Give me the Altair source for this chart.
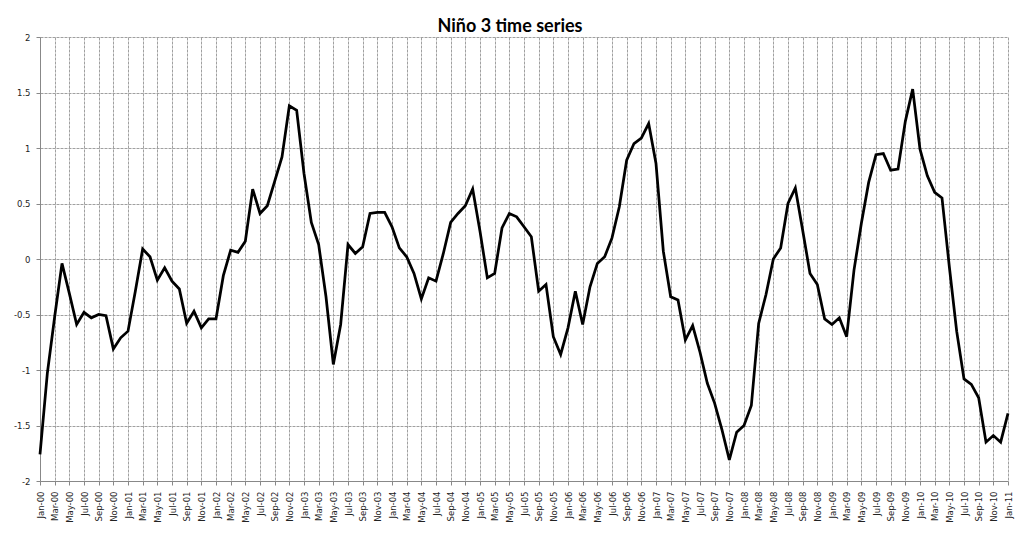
import altair as alt
import pandas as pd

# Monthly categories Jan-00 .. Jan-11
months = pd.date_range("2000-01-01", "2011-01-01", freq="MS").strftime("%b-%y").tolist()

# Niño 3 anomaly values
nino3 = [
    -1.76, -1.03, -0.52, -0.04, -0.31, -0.59, -0.48, -0.53, -0.50, -0.51, -0.81, -0.71,
    -0.65, -0.29, 0.09, 0.02, -0.19, -0.08, -0.20, -0.27, -0.58, -0.47, -0.62, -0.54,
    -0.54, -0.15, 0.08, 0.06, 0.16, 0.63, 0.41, 0.48, 0.70, 0.92, 1.38, 1.34,
    0.77, 0.33, 0.13, -0.34, -0.95, -0.59, 0.13, 0.05, 0.11, 0.41, 0.42, 0.42,
    0.29, 0.10, 0.02, -0.13, -0.36, -0.17, -0.20, 0.05, 0.33, 0.41, 0.48, 0.63,
    0.25, -0.17, -0.13, 0.28, 0.41, 0.38, 0.29, 0.20, -0.29, -0.23, -0.70, -0.86,
    -0.62, -0.29, -0.59, -0.25, -0.04, 0.02, 0.19, 0.47, 0.89, 1.04, 1.09, 1.22,
    0.86, 0.07, -0.34, -0.37, -0.73, -0.60, -0.84, -1.12, -1.30, -1.54, -1.81, -1.56,
    -1.50, -1.32, -0.58, -0.32, 0.00, 0.10, 0.50, 0.64, 0.26, -0.13, -0.23, -0.54,
    -0.59, -0.53, -0.70, -0.10, 0.32, 0.69, 0.94, 0.95, 0.80, 0.81, 1.24, 1.53,
    0.99, 0.75, 0.60, 0.55, -0.07, -0.65, -1.08, -1.13, -1.25, -1.65, -1.59, -1.65,
    -1.39,
]

x_tick_labels = months[::2]
y_ticks = [-2, -1.5, -1, -0.5, 0, 0.5, 1, 1.5, 2]

df = pd.DataFrame({"month": months, "anomaly": nino3})

grid_color = "#a0a0a0"
label_font = "DejaVu Sans"

chart = (
    alt.Chart(df)
    .mark_line(color="black", strokeWidth=2.75)
    .encode(
        x=alt.X(
            "month:O",
            sort=months,
            scale=alt.Scale(type="point", padding=0),
            axis=alt.Axis(
                values=x_tick_labels,
                title=None,
                labelAngle=-90,
                labelOverlap=False,
                labelFont=label_font,
                labelFontSize=8.5,
                labelColor="#222222",
                labelPadding=6,
                grid=True,
                gridColor=grid_color,
                gridDash=[3, 1],
                gridWidth=1,
                domainColor="#888888",
                ticks=True,
                tickSize=4,
                tickColor="#888888",
            ),
        ),
        y=alt.Y(
            "anomaly:Q",
            scale=alt.Scale(domain=[-2, 2], nice=False, zero=False),
            axis=alt.Axis(
                values=y_ticks,
                title=None,
                labelExpr="'' + datum.value",
                labelFont=label_font,
                labelFontSize=8.5,
                labelColor="#222222",
                labelPadding=6,
                grid=True,
                gridColor=grid_color,
                gridDash=[3, 1],
                gridWidth=1,
                domainColor="#888888",
                ticks=True,
                tickSize=4,
                tickColor="#888888",
            ),
        ),
    )
    .properties(
        width=968,
        height=444,
        title=alt.TitleParams(
            "Niño 3 time series",
            font="Lato",
            fontSize=18,
            fontWeight="bold",
            color="black",
            anchor="middle",
            dx=-14,
            dy=11,
            offset=8,
        ),
        padding={"left": 32, "top": 29, "right": 8, "bottom": 45},
        autosize="none",
    )
    .configure_view(strokeWidth=0)
)

chart.save("out.html", embed_options={"renderer": "svg", "actions": False})
